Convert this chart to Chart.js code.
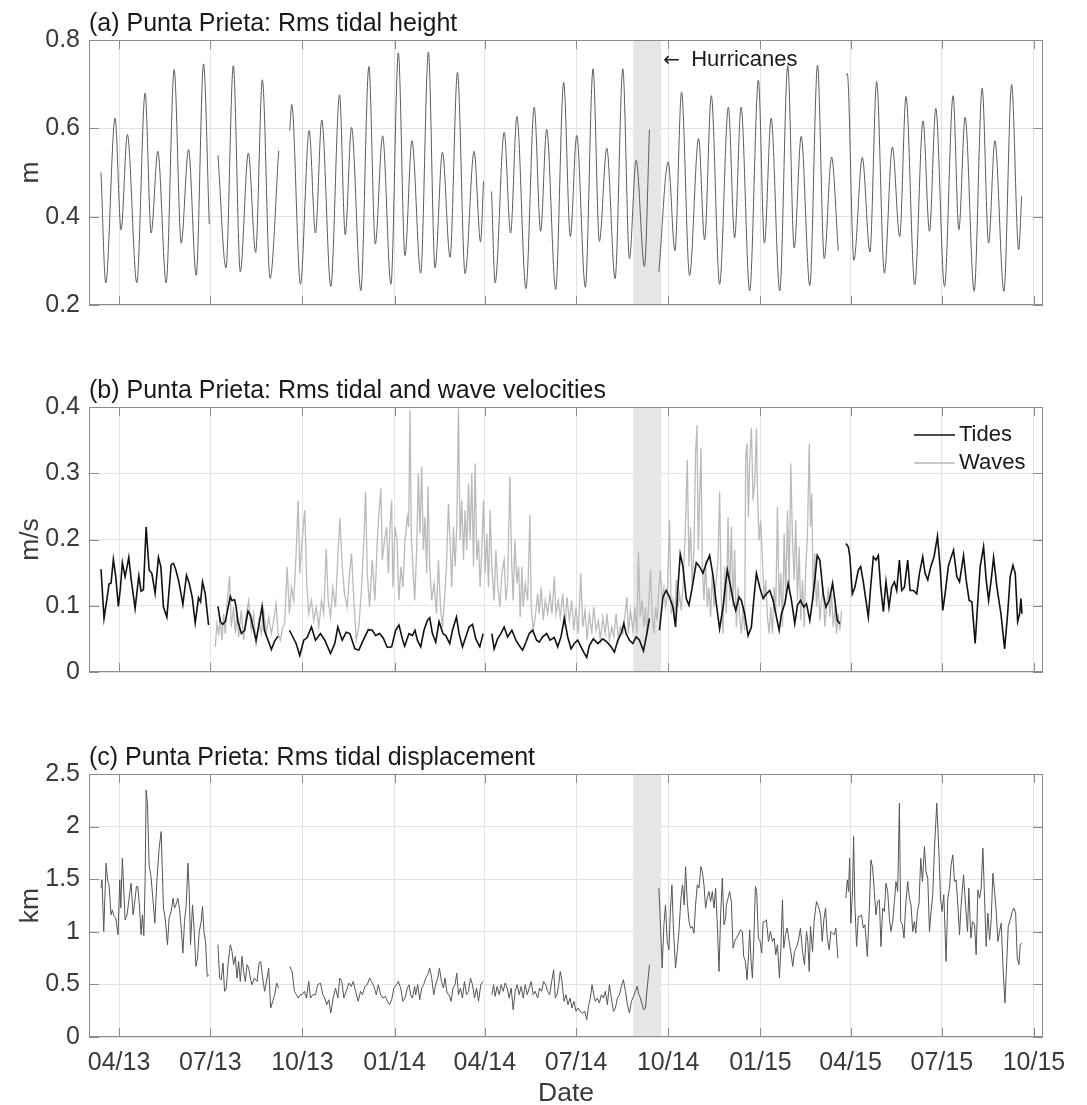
<!DOCTYPE html>
<html>
<head>
<meta charset="utf-8">
<title>Punta Prieta</title>
<script src="https://cdn.jsdelivr.net/npm/chart.js@4.4.1/dist/chart.umd.min.js"></script>
<style>
    body { margin: 0; background: #fff; }
    #wrap { position: relative; width: 1087px; height: 1105px; }
    #wrap canvas { position: absolute; left: 0; }
</style>
</head>
<body>
<div id="wrap">
    <canvas id="panelA" width="1087" height="340" style="top:0;width:1087px;height:340px"></canvas>
    <canvas id="panelB" width="1087" height="360" style="top:340px;width:1087px;height:360px"></canvas>
    <canvas id="panelC" width="1087" height="405" style="top:700px;width:1087px;height:405px"></canvas>
</div>
<script>
/* ---- axis data (x = days since 1 Apr 2013) ---- */
const tickDays = [0, 91, 183, 275, 365, 456, 548, 640, 730, 821, 913];
const tickLabels = ['04/13', '07/13', '10/13', '01/14', '04/14', '07/14', '10/14', '01/15', '04/15', '07/15', '10/15'];
const hurricaneDays = [513, 541];

/* ---- (a) rms tidal height, m  (null = gap in record) ---- */
const tidalHeight = [
    [-18,0.50],[-13.3,0.25],[-4,0.623],[2,0.37],[8.3,0.586],[17.7,0.25],[26,0.68],[32,0.363],[38.7,0.548],[47,0.25],
    [55,0.733],[62,0.34],[69.3,0.552],[77,0.267],[84.3,0.746],[90,0.383], null,
    [98.7,0.539],[106.7,0.284],[114,0.742],[121,0.275],[129,0.544],[136.3,0.319],[143,0.71],[150.7,0.26],[159.3,0.549], null,
    [170.3,0.595],[172.3,0.654],[181,0.247],[189.7,0.595],[196,0.363],[202.3,0.619],[211.3,0.242],[220,0.676],[225.7,0.359],
    [232,0.602],[241.3,0.233],[249.3,0.74],[255.7,0.338],[263,0.583],[271.3,0.247],[278.7,0.771],[285.3,0.312],[292.3,0.572],
    [301,0.272],[308.7,0.773],[315.3,0.284],[322.7,0.546],[330.3,0.308],[337.7,0.727],[345.3,0.271],[354.3,0.548],[360.7,0.343],[363.7,0.48], null,
    [371.7,0.457],[375.3,0.25],[384.3,0.591],[390.7,0.363],[397,0.627],[406,0.237],[414.3,0.648],[420.7,0.367],[426.7,0.598],
    [435.7,0.235],[443.7,0.704],[450.3,0.355],[456.7,0.584],[465.3,0.24],[473,0.735],[479.3,0.344],[486.7,0.555],[495,0.26],
    [502.7,0.735],[509.3,0.305],[516,0.528],[524.3,0.287],[529.3,0.597], null,
    [538.7,0.275],[548,0.524],[554.7,0.323],[561.3,0.682],[569.3,0.267],[578.3,0.577],[584.3,0.348],[591,0.674],[599.3,0.247],
    [608,0.648],[614.3,0.352],[620.7,0.648],[629.3,0.232],[638,0.709],[644,0.34],[650.7,0.623],[659.3,0.232],[667.3,0.742],
    [673.7,0.329],[680.7,0.582],[689.3,0.244],[697,0.743],[703.7,0.305],[711,0.535],[717.7,0.323], null,
    [725.3,0.72],[726.7,0.724],[733.3,0.301],[741.7,0.534],[749.3,0.32],[756,0.706],[763.7,0.272],[771.7,0.558],[779,0.355],
    [785.3,0.672],[794,0.246],[802.3,0.617],[808.7,0.367],[815,0.645],[823.7,0.242],[832.3,0.674],[838,0.37],[844.3,0.625],
    [853.3,0.231],[861.3,0.691],[867.7,0.34],[874,0.572],[883,0.231],[890.7,0.699],[897.7,0.325],[900.7,0.446]
];

/* ---- (b) rms tidal velocity, m/s ---- */
const tideVelocity = [
    [-18,0.155],[-15,0.081],[-12.3,0.108],[-10,0.133],[-8,0.134],[-5.7,0.17],[-3.3,0.144],[-0.7,0.099],[1.3,0.126],[3.3,0.165],
    [6,0.144],[8,0.159],[9.7,0.173],[12,0.141],[16,0.096],[19.7,0.145],[22,0.122],[24.3,0.124],[27,0.219],[30,0.154],
    [32.7,0.149],[36,0.119],[39.3,0.173],[41.7,0.159],[44.3,0.098],[47.7,0.083],[52,0.162],[54.3,0.164],[56.7,0.154],[59.7,0.136],
    [63.7,0.102],[67.3,0.146],[70,0.134],[73,0.113],[76,0.074],[79.3,0.112],[81.3,0.106],[83.3,0.136],[86,0.118],[89.3,0.071], null,
    [98.7,0.099],[101,0.076],[103.3,0.072],[106,0.076],[111,0.114],[112.7,0.108],[115.3,0.109],[116.7,0.099],[118.7,0.076],[122,0.058],
    [125.3,0.063],[128.7,0.092],[131,0.086],[133.7,0.068],[136.7,0.048],[139.3,0.068],[142.7,0.099],[145,0.063],[148.7,0.048],
    [152,0.034],[155.3,0.047],[158.7,0.054], null,
    [170,0.063],[176.7,0.043],[180.3,0.025],[184.3,0.048],[187.7,0.052],[192,0.068],[196,0.048],[201,0.058],[205.3,0.048],[211,0.028],
    [215.3,0.043],[218.3,0.068],[222.7,0.048],[226.7,0.06],[230.3,0.058],[235.3,0.035],[239.3,0.033],[243.7,0.048],[248.7,0.064],
    [252.7,0.063],[256,0.055],[260,0.058],[263.7,0.051],[267.7,0.037],[272,0.038],[276,0.063],[279.3,0.071],[282.7,0.05],[285,0.039],
    [289.3,0.058],[292.7,0.055],[295.3,0.063],[297.7,0.048],[301,0.038],[304.3,0.063],[307.7,0.078],[310,0.082],[312.7,0.058],
    [316,0.045],[319.3,0.076],[323.3,0.058],[326,0.055],[330,0.043],[332.7,0.063],[336.7,0.083],[339.3,0.058],[342.7,0.038],
    [346,0.053],[349.3,0.068],[352.7,0.072],[356,0.05],[360,0.038],[363.3,0.058], null,
    [372,0.058],[374.3,0.035],[377.7,0.05],[381,0.058],[384.3,0.068],[387.7,0.053],[392,0.063],[396,0.048],[399.3,0.04],[402.7,0.033],
    [406,0.045],[409.3,0.058],[412.7,0.063],[416.7,0.048],[419.3,0.045],[422.7,0.053],[426.7,0.058],[430,0.048],[434.3,0.052],
    [437.7,0.038],[441,0.053],[444.3,0.081],[447.7,0.053],[451,0.035],[454.3,0.043],[457.7,0.048],[461,0.038],[464.3,0.028],
    [466.7,0.022],[469.3,0.04],[473.3,0.05],[477.7,0.043],[482.7,0.05],[487,0.045],[491,0.038],[494.3,0.03],[497.7,0.048],
    [501,0.058],[503.7,0.073],[506,0.058],[509.3,0.048],[512.7,0.043],[516,0.053],[519.3,0.048],[523.3,0.032],[526.7,0.058],[529.3,0.081], null,
    [539.3,0.063],[542.7,0.113],[546,0.123],[549.3,0.113],[552.7,0.098],[555.3,0.068],[557.7,0.128],[560,0.178],[562.7,0.159],
    [566,0.111],[568.7,0.101],[572,0.128],[576,0.165],[579.3,0.159],[582.7,0.149],[586,0.164],[589.3,0.176],[592.7,0.146],
    [596,0.103],[599.3,0.065],[602.7,0.098],[605.3,0.134],[607,0.154],[610,0.131],[612.7,0.108],[615.3,0.093],[618.7,0.113],
    [621,0.108],[624.3,0.088],[627.7,0.055],[631,0.068],[633.3,0.108],[636,0.149],[639.3,0.128],[642.7,0.111],[646,0.118],
    [649.3,0.123],[652.7,0.108],[656,0.083],[658.7,0.063],[661,0.088],[664.3,0.103],[667.7,0.134],[671,0.108],[674.3,0.073],
    [677,0.101],[680,0.108],[683.3,0.098],[686,0.103],[689.3,0.078],[692,0.108],[694.3,0.139],[696.7,0.176],[699.3,0.169],
    [702.7,0.118],[705.3,0.098],[708.7,0.108],[712,0.134],[714.3,0.108],[716.7,0.078],[719.3,0.073], null,
    [725.3,0.194],[727.7,0.189],[729.3,0.174],[731.7,0.118],[734.3,0.128],[737.7,0.154],[740,0.159],[742.7,0.136],[745.3,0.108],
    [747.7,0.083],[750,0.128],[752.7,0.174],[755.3,0.169],[757.7,0.176],[760,0.128],[762.7,0.091],[765.3,0.136],[768.3,0.098],
    [771,0.128],[773.7,0.136],[776,0.123],[778.7,0.169],[781,0.123],[783.7,0.128],[787,0.169],[789.3,0.123],[792.7,0.123],
    [796,0.118],[798.7,0.149],[802,0.174],[804.3,0.149],[807,0.139],[810,0.159],[813.3,0.174],[816.7,0.205],[819.3,0.159],
    [822,0.093],[824.3,0.118],[827.7,0.161],[832.7,0.184],[836,0.144],[838.7,0.136],[842.7,0.176],[845.3,0.139],[848.3,0.108],
    [851,0.106],[854.3,0.043],[857,0.108],[859.3,0.159],[862.7,0.189],[865.3,0.139],[867.7,0.108],[870.3,0.139],[872.7,0.173],
    [876,0.128],[880,0.088],[883.7,0.035],[886.7,0.088],[889.3,0.144],[892,0.161],[894.3,0.149],[896.7,0.076],[898.7,0.088],
    [900,0.111],[901,0.088]
];

/* ---- (b) rms wave velocity, m/s ---- */
const waveVelocity = [
    [96,0.038],[97.7,0.073],[99.3,0.058],[101,0.078],[102.7,0.048],[104.3,0.088],[106,0.058],[107.7,0.103],[110.3,0.145],[112,0.068],
    [114.3,0.098],[116,0.058],[117.7,0.088],[119.3,0.053],[122,0.093],[124.3,0.048],[126.7,0.083],[129.3,0.108],[132,0.063],
    [134.3,0.088],[136.7,0.038],[139.3,0.078],[142,0.058],[144.3,0.093],[146.7,0.058],[149.3,0.083],[152,0.058],[154.3,0.078],
    [156.7,0.103],[158.7,0.058],[161,0.048],[163.3,0.068],[165.3,0.073],[167.7,0.159],[170,0.088],[172,0.128],[174.3,0.108],
    [176.7,0.179],[178.7,0.259],[180.3,0.149],[182.7,0.199],[185.3,0.244],[187.3,0.134],[189.3,0.088],[192,0.108],[194.3,0.078],
    [196.7,0.098],[199.3,0.068],[202,0.108],[204.3,0.088],[206.7,0.186],[208.7,0.108],[211,0.083],[213.3,0.128],[216,0.098],
    [218.3,0.174],[220.3,0.232],[222.7,0.159],[225,0.118],[227.7,0.098],[230,0.149],[232,0.179],[234.3,0.108],[236.7,0.048],
    [239.3,0.068],[242,0.128],[244.3,0.199],[246,0.272],[247.7,0.149],[250,0.098],[252.7,0.169],[255.3,0.108],[257.7,0.199],
    [259.3,0.239],[261.3,0.277],[262.7,0.169],[265,0.199],[267,0.219],[268.7,0.149],[270.3,0.219],[272,0.259],[273.3,0.128],
    [275.3,0.219],[277.3,0.199],[279.3,0.108],[281.3,0.159],[283.3,0.128],[285.3,0.199],[287.7,0.234],[289,0.219],[290.3,0.395],
    [291.7,0.199],[292.7,0.174],[295,0.108],[297,0.184],[298.7,0.30],[300.3,0.209],[302,0.31],[303.7,0.184],[305.3,0.234],
    [307,0.149],[308.3,0.28],[310,0.159],[312,0.108],[314.3,0.134],[316.7,0.088],[318.7,0.169],[320.7,0.098],[322.7,0.068],
    [324.7,0.108],[326.7,0.159],[328.7,0.254],[330.3,0.199],[332,0.128],[333.7,0.219],[335.3,0.159],[337,0.219],[338.7,0.398],
    [340.3,0.199],[342,0.259],[343.7,0.169],[345.3,0.244],[347,0.184],[348.7,0.285],[350.3,0.199],[352,0.30],[353.7,0.159],
    [355.3,0.315],[357,0.169],[358.7,0.199],[360.3,0.128],[362,0.184],[363.7,0.259],[365.3,0.149],[367,0.209],[368.7,0.128],
    [370.3,0.244],[372,0.159],[374.3,0.108],[376,0.184],[378,0.128],[380,0.098],[382,0.149],[384.3,0.169],[386,0.108],
    [387.7,0.134],[390,0.295],[391.7,0.169],[393.3,0.108],[395,0.199],[397,0.134],[398.7,0.159],[400.3,0.083],[402,0.159],
    [403.3,0.098],[405.3,0.134],[407.7,0.108],[410,0.237],[411.3,0.098],[413.3,0.063],[415.3,0.083],[417.7,0.118],[419.3,0.088],
    [421.3,0.128],[423.3,0.078],[425.3,0.108],[427.7,0.088],[430,0.118],[432,0.088],[434.3,0.144],[436,0.088],[438.3,0.108],
    [440.3,0.083],[442.7,0.118],[445,0.068],[447,0.113],[449.3,0.078],[451.7,0.108],[453.7,0.063],[456,0.098],[458.3,0.058],
    [460.7,0.149],[462.7,0.068],[465,0.093],[467,0.048],[469.3,0.088],[471.7,0.058],[473.7,0.098],[476,0.063],[478.3,0.078],
    [480.3,0.048],[482.7,0.083],[485,0.058],[487,0.088],[489.3,0.048],[491.7,0.068],[493.7,0.053],[496,0.088],[498.3,0.048],
    [500.3,0.068],[502.7,0.058],[505,0.088],[506.7,0.113],[508.3,0.058],[510.3,0.093],[512.7,0.063],[514.7,0.098],[516.7,0.058],
    [518.3,0.181],[520,0.083],[522,0.108],[523.7,0.068],[525.3,0.098],[527,0.058],[528.7,0.108],[530.3,0.154],[532,0.088],
    [533.7,0.058],[535.3,0.098],[537,0.078],[538.7,0.128],[540.3,0.154],[542,0.108],[543.7,0.128],[545.3,0.098],[547,0.113],
    [549.3,0.229],[551,0.088],[552.7,0.108],[554.3,0.078],[556,0.139],[557.7,0.098],[559.3,0.118],[561,0.093],[562.7,0.128],
    [565,0.209],[567,0.32],[568.7,0.159],[570.3,0.219],[572,0.128],[573.7,0.189],[575.3,0.33],[576.7,0.373],[578,0.184],
    [579.3,0.259],[580.7,0.338],[582,0.159],[583.7,0.108],[585.3,0.169],[587,0.098],[588.7,0.128],[590.3,0.083],[592,0.149],
    [593.7,0.098],[595.3,0.128],[597.7,0.169],[599.3,0.272],[601,0.108],[602.7,0.058],[604.3,0.159],[606,0.088],[607.7,0.234],
    [609.3,0.108],[611,0.219],[612.7,0.098],[614.3,0.184],[616,0.068],[617.7,0.128],[619.3,0.083],[621,0.058],[622.7,0.098],
    [624.3,0.063],[625.3,0.325],[626.7,0.345],[628,0.234],[629.3,0.32],[631,0.368],[632.7,0.259],[634.3,0.285],[636,0.368],
    [637.3,0.259],[638.7,0.199],[640.3,0.229],[642,0.169],[643.7,0.108],[645.3,0.139],[647,0.083],[648.7,0.058],[650.3,0.098],
    [652,0.058],[653.7,0.128],[655.3,0.088],[657,0.249],[658.7,0.098],[660.3,0.149],[662,0.068],[663.7,0.209],[665.3,0.108],
    [667,0.244],[668.7,0.128],[670.3,0.315],[672,0.199],[673.7,0.139],[675.3,0.229],[677,0.108],[678.7,0.189],[680.3,0.078],
    [682,0.139],[683.7,0.068],[685.3,0.159],[687,0.209],[688.7,0.345],[690,0.219],[691.3,0.269],[692.7,0.108],[694.3,0.179],
    [696,0.098],[697.7,0.139],[699.3,0.078],[701,0.108],[702.7,0.128],[704.3,0.068],[706,0.098],[707.7,0.128],[709.3,0.083],
    [711,0.118],[712.7,0.068],[714.3,0.098],[716,0.058],[717.7,0.088],[719.3,0.063],[721,0.093]
];

/* ---- (c) rms tidal displacement, km ---- */
const tidalDisplacement = [
    [-18,1.415],[-17,1.494],[-15.3,1.003],[-13,1.652],[-11.3,1.478],[-10,1.446],[-8,1.161],[-6.7,1.209],[-5,1.146],[-3.3,1.13],
    [-1,0.972],[0.7,1.494],[1.7,1.225],[3.3,1.699],[6,1.114],[8,1.161],[10,1.32],[12,1.462],[14,1.161],[15.3,1.256],[17.3,1.43],
    [18.7,1.43],[20.3,1.256],[22,0.972],[23.3,1.161],[24.7,0.965],[26,1.478],[27,2.348],[28.3,2.222],[30,1.636],[31.7,1.541],
    [33.7,1.32],[35.7,1.082],[37.7,1.478],[40,1.794],[42,1.953],[44.3,1.225],[46,1.13],[48.3,0.877],[50,1.13],[52,1.193],
    [54,1.32],[55.3,1.225],[56.7,1.256],[58.7,1.32],[60.3,1.225],[62,1.035],[63.7,0.797],[65.3,1.098],[67,1.256],[68.7,1.652],
    [70,1.383],[71.3,0.877],[73.3,1.256],[75,1.003],[76.7,0.671],[78.3,0.75],[80,1.003],[81.7,1.082],[83.3,1.241],[84.7,1.003],
    [86.3,0.908],[88,0.576],[89.7,0.592], null,
    [98.7,0.877],[100.3,0.56],[102,0.544],[103.7,0.703],[105.3,0.434],[107,0.465],[108.7,0.687],[111,0.877],[112.7,0.813],
    [114.3,0.687],[116,0.766],[117.7,0.56],[119.3,0.718],[121,0.528],[122.7,0.766],[124.3,0.623],[126,0.528],[127.7,0.687],
    [129.3,0.655],[131,0.56],[132.7,0.497],[135,0.56],[137.7,0.528],[139.7,0.703],[141.3,0.718],[143.3,0.56],[145.3,0.434],
    [147.7,0.56],[149.3,0.655],[151.3,0.275],[153.3,0.339],[155.3,0.402],[157.3,0.513],[159.3,0.465], null,
    [170.3,0.671],[172.7,0.623],[175,0.434],[177,0.402],[178.7,0.37],[181,0.402],[182.7,0.402],[185,0.434],[187,0.37],[189.3,0.528],
    [191,0.37],[193.3,0.402],[196,0.402],[198.3,0.497],[201,0.513],[203.3,0.402],[205.3,0.37],[207.3,0.307],[209.3,0.354],
    [211.3,0.228],[213.7,0.37],[216,0.465],[218.3,0.37],[220.3,0.56],[222.3,0.528],[224.3,0.37],[226.7,0.434],[229.3,0.513],
    [231.7,0.481],[233.7,0.528],[236,0.434],[238.7,0.339],[241,0.434],[243,0.402],[245.3,0.481],[247.7,0.497],[250,0.56],
    [252,0.528],[254.3,0.481],[256.7,0.402],[258.7,0.497],[261,0.402],[263.3,0.37],[265.7,0.386],[267.7,0.339],[270,0.307],
    [272,0.354],[274.3,0.465],[276.7,0.497],[278.7,0.528],[281,0.465],[283.3,0.339],[285.3,0.37],[287.7,0.465],[289.3,0.497],
    [291,0.402],[292.7,0.37],[295,0.481],[296,0.402],[298,0.497],[300,0.354],[302,0.465],[304,0.497],[306,0.56],[308,0.592],
    [310,0.655],[312,0.56],[314,0.402],[316,0.497],[318,0.56],[319.7,0.655],[321.7,0.528],[323.7,0.465],[325.3,0.56],[327.3,0.418],
    [329.3,0.402],[331.3,0.339],[333.3,0.465],[335.3,0.497],[337,0.608],[338.7,0.402],[340.7,0.465],[342.7,0.37],[344.7,0.528],
    [346.7,0.402],[348.7,0.434],[350.7,0.56],[352.7,0.497],[354.7,0.37],[356.7,0.465],[358.7,0.339],[361,0.497],[363.3,0.528], null,
    [372,0.402],[373.7,0.497],[375.3,0.386],[377.3,0.481],[379.3,0.402],[381.3,0.497],[383.3,0.434],[385.3,0.513],[387.3,0.465],
    [389.3,0.37],[391.3,0.465],[393.3,0.259],[395.3,0.434],[397.3,0.497],[399.3,0.402],[401.3,0.481],[403.3,0.37],[405.3,0.497],
    [407.3,0.402],[409.3,0.465],[411.3,0.528],[413.3,0.402],[415.3,0.434],[417.7,0.37],[419.7,0.465],[421.7,0.434],[423.7,0.528],
    [425.7,0.497],[427.7,0.434],[429.7,0.402],[431.7,0.528],[433.7,0.639],[435.3,0.37],[437,0.402],[438.7,0.497],[440.3,0.623],
    [442,0.528],[444,0.339],[446,0.402],[448,0.307],[450,0.37],[452,0.275],[454,0.339],[456,0.244],[458,0.275],[460,0.244],
    [462.7,0.228],[464.7,0.244],[466.7,0.165],[468.7,0.307],[470.3,0.37],[472,0.497],[473.7,0.402],[475.3,0.339],[477.3,0.37],
    [479.3,0.323],[481.3,0.402],[483.3,0.37],[485.3,0.434],[487.3,0.307],[489.3,0.497],[491.3,0.37],[493.3,0.244],[495.3,0.275],
    [497.3,0.37],[499.3,0.402],[501.3,0.481],[503.3,0.544],[505.3,0.434],[507.3,0.307],[509.3,0.228],[511.3,0.339],[513.3,0.386],
    [515.3,0.434],[517,0.481],[518.7,0.402],[520.3,0.37],[522,0.307],[523.7,0.259],[525.3,0.275],[526.7,0.434],[528,0.56],[529.3,0.687], null,
    [538.7,1.415],[540,1.13],[542,0.655],[543.7,1.066],[545.3,1.256],[547,0.908],[548.7,0.829],[550.3,1.225],[551.7,1.446],
    [553.3,1.003],[555.3,0.655],[557,0.813],[558.7,1.003],[560.7,1.32],[562.3,1.446],[564,1.256],[565.3,1.62],[567,1.288],
    [568.7,1.098],[570.3,1.035],[572,1.051],[573.7,0.987],[575.3,1.256],[577,1.446],[578.7,1.415],[580.7,1.62],[582,1.573],
    [583.7,1.446],[585.3,1.225],[587,1.32],[588.7,1.383],[590.3,1.288],[592,1.383],[593.7,1.225],[595.3,1.415],[597,1.066],
    [598.7,0.623],[600.3,1.161],[602,1.509],[603.7,1.066],[605.3,1.13],[606,1.256],[607.7,1.32],[609.3,1.383],[611,1.288],
    [612.7,0.845],[614.3,0.908],[616,0.94],[618,0.972],[620,1.019],[622,1.003],[623.3,0.766],[625,0.718],[626.7,0.544],[628,0.75],
    [629.3,1.019],[630.7,0.718],[632,0.56],[633.3,0.877],[635,1.43],[636.3,1.383],[638,0.94],[639.7,0.908],[641.3,0.797],
    [642.7,1.098],[644.3,1.098],[646,1.114],[648,0.908],[650,1.003],[652,0.908],[653.7,0.94],[655.3,0.782],[657,0.877],[659,0.56],
    [660.3,0.813],[662,1.304],[663.3,0.845],[665,0.972],[666.7,1.035],[668.7,0.908],[670.3,0.813],[672.3,0.671],[674,0.813],
    [675.7,0.845],[677.7,0.908],[680,1.035],[682,0.813],[684,0.687],[686,1.003],[687.3,0.908],[688.7,0.623],[690,1.051],
    [692,0.813],[693.7,1.114],[696,1.288],[698,1.241],[700,1.161],[701.7,0.908],[703.3,1.114],[705,1.225],[706.7,0.94],
    [708.7,0.829],[710.3,1.003],[712,0.987],[713.7,0.972],[715.3,1.035],[717.3,0.75], null,
    [725.3,1.32],[726.7,1.494],[728,1.383],[729,1.699],[730.3,1.082],[732,1.415],[733,1.905],[734.3,1.256],[736,0.861],
    [737.7,1.146],[739.3,1.146],[741,1.161],[742.7,1.035],[744.3,1.066],[746.7,0.766],[748.7,1.225],[750.3,1.684],[752,1.604],
    [753.7,1.383],[755.3,1.161],[757,1.288],[758.7,1.304],[760.3,0.861],[762,1.225],[763.7,1.193],[765.3,1.462],[767,1.383],
    [768.7,1.13],[770.3,1.003],[772,1.098],[773.7,1.288],[775.3,1.478],[777,1.383],[778.7,2.222],[780,1.098],[781.7,1.066],
    [783.3,0.94],[785,1.256],[787,1.478],[788.7,1.32],[790.3,1.256],[792,1.003],[793.7,1.098],[795,0.987],[796.7,1.193],
    [798.3,1.272],[800,1.699],[801.7,1.478],[803.7,1.81],[805.3,1.573],[807,1.509],[808.7,1.003],[810.3,1.193],[812,1.351],
    [813.7,1.794],[816,2.222],[818,1.794],[819.7,1.32],[821.3,1.193],[823,1.351],[825.3,0.718],[827,1.32],[828.7,1.415],
    [830.3,1.636],[832,1.731],[833.7,1.478],[835.3,1.494],[837,1.256],[838.7,0.972],[840.3,1.256],[842.7,1.541],[844.7,1.256],
    [846.7,1.003],[848,1.415],[850,0.94],[851.7,1.098],[853.7,1.066],[855.3,0.782],[857,1.399],[858.7,1.32],[860.3,1.415],
    [862,1.794],[863.7,1.32],[865.3,0.861],[867,1.177],[868.7,0.924],[870.3,1.114],[872,1.557],[873.7,1.383],[875.3,1.193],
    [877,0.908],[878.7,1.003],[880.3,1.082],[882,0.687],[884,0.323],[885.7,0.687],[887.3,1.051],[889.3,1.114],[891.3,1.193],
    [893,1.225],[894.7,1.177],[896.3,0.75],[898,0.687],[899.3,0.877],[900.7,0.893]
];

/* ---- styling ---- */
const family = "'Liberation Sans', Arial, Helvetica, sans-serif";
const tickColor = '#3a3a3a';
const gridColor = '#e3e3e3';
const frameColor = '#8c8c8c';

// [day, value] pairs -> chart points, a null entry becomes a break in the line
function toPoints(pairs) {
    return pairs.map((p, i) => p
        ? { x: p[0], y: p[1] }
        : { x: (pairs[i - 1][0] + pairs[i + 1][0]) / 2, y: null });
}

const framePlugin = {
    id: 'frame',
    beforeDatasetsDraw(chart) {
        const { ctx, chartArea: a, scales: { x } } = chart;
        const x0 = x.getPixelForValue(hurricaneDays[0]);
        const x1 = x.getPixelForValue(hurricaneDays[1]);
        ctx.save();
        ctx.fillStyle = '#e6e6e6';
        ctx.fillRect(x0, a.top, x1 - x0, a.bottom - a.top);
        ctx.restore();
    },
    afterDatasetsDraw(chart, args, opts) {
        const { ctx, chartArea: a, scales: { x, y } } = chart;
        ctx.save();
        // inward tick marks on all four sides + box
        ctx.strokeStyle = frameColor;
        ctx.lineWidth = 1;
        ctx.beginPath();
        x.ticks.forEach(t => {
            const px = Math.round(x.getPixelForValue(t.value)) + 0.5;
            ctx.moveTo(px, a.bottom); ctx.lineTo(px, a.bottom - 9);
            ctx.moveTo(px, a.top); ctx.lineTo(px, a.top + 9);
        });
        y.ticks.forEach(t => {
            const py = Math.round(y.getPixelForValue(t.value)) + 0.5;
            ctx.moveTo(a.left, py); ctx.lineTo(a.left + 10, py);
            ctx.moveTo(a.right, py); ctx.lineTo(a.right - 10, py);
        });
        ctx.stroke();
        ctx.strokeRect(Math.round(a.left) + 0.5, Math.round(a.top) + 0.5,
            Math.round(a.right - a.left) - 1, Math.round(a.bottom - a.top) - 1);

        // panel title
        ctx.fillStyle = '#1a1a1a';
        ctx.font = `25px ${family}`;
        ctx.textAlign = 'left';
        ctx.textBaseline = 'alphabetic';
        ctx.fillText(opts.title, a.left, a.top - 9);

        if (opts.hurricaneLabel) {
            const hx = x.getPixelForValue(hurricaneDays[1]) + 2;
            ctx.textBaseline = 'middle';
            ctx.font = "20px 'DejaVu Sans', sans-serif";
            ctx.fillText('\u2190', hx, a.top + 21);
            ctx.font = `22px ${family}`;
            ctx.fillText('Hurricanes', hx + 28, a.top + 20);
        }

        if (opts.legend) {
            ctx.font = `22px ${family}`;
            ctx.textBaseline = 'middle';
            chart.data.datasets.forEach((ds, i) => {
                const ly = a.top + 28 + i * 28;
                ctx.strokeStyle = ds.borderColor;
                ctx.lineWidth = ds.borderWidth;
                ctx.beginPath();
                ctx.moveTo(a.right - 129, ly);
                ctx.lineTo(a.right - 88, ly);
                ctx.stroke();
                ctx.fillStyle = '#1a1a1a';
                ctx.fillText(ds.label, a.right - 84, ly);
            });
        }
        ctx.restore();
    }
};
Chart.register(framePlugin);

function makePanel(id, cfg) {
    const tickFont = { family, size: 25 };
    return new Chart(document.getElementById(id), {
        type: 'line',
        data: { datasets: cfg.datasets },
        options: {
            responsive: false,
            animation: false,
            devicePixelRatio: 1,
            layout: { padding: { top: cfg.top, right: 44, bottom: 0, left: 0 } },
            elements: { point: { radius: 0 } },
            plugins: { legend: { display: false }, tooltip: { enabled: false }, frame: cfg.frame },
            scales: {
                x: {
                    type: 'linear', min: -30, max: 922,
                    afterBuildTicks: s => { s.ticks = tickDays.map(v => ({ value: v })); },
                    afterFit: s => { s.height = cfg.xHeight; s.paddingLeft = 0; s.paddingRight = 0; },
                    grid: { color: gridColor, drawTicks: false },
                    border: { display: false },
                    ticks: {
                        display: cfg.dates, padding: 11, color: tickColor, font: tickFont,
                        maxRotation: 0, autoSkip: false, callback: (v, i) => tickLabels[i]
                    },
                    title: {
                        display: cfg.dates, text: 'Date', color: tickColor,
                        font: { family, size: 26.5, lineHeight: 0.85 }, padding: 0
                    }
                },
                y: {
                    min: cfg.yMin, max: cfg.yMax,
                    afterFit: s => { s.width = 89; },
                    grid: { color: gridColor, drawTicks: false },
                    border: { display: false },
                    ticks: { stepSize: cfg.yStep, padding: 9, color: tickColor, font: tickFont, callback: v => +v.toFixed(1) },
                    title: {
                        display: true, text: cfg.yTitle, color: tickColor,
                        font: { family, size: 26.5 }, padding: { top: 15, bottom: 0 }
                    }
                }
            }
        }
    });
}

makePanel('panelA', {
    top: 40, xHeight: 35, dates: false, yMin: 0.2, yMax: 0.8, yStep: 0.2, yTitle: 'm',
    frame: { title: '(a) Punta Prieta: Rms tidal height', hurricaneLabel: true },
    datasets: [{
        label: 'Tidal height', data: toPoints(tidalHeight),
        borderColor: '#5c5c5c', borderWidth: 1, cubicInterpolationMode: 'monotone'
    }]
});

makePanel('panelB', {
    top: 67, xHeight: 28, dates: false, yMin: 0, yMax: 0.4, yStep: 0.1, yTitle: 'm/s',
    frame: { title: '(b) Punta Prieta: Rms tidal and wave velocities', legend: true },
    datasets: [
        { label: 'Tides', data: toPoints(tideVelocity), borderColor: '#111111', borderWidth: 1.6 },
        { label: 'Waves', data: toPoints(waveVelocity), borderColor: '#bababa', borderWidth: 1.3 }
    ]
});

makePanel('panelC', {
    top: 74, xHeight: 68, dates: true, yMin: 0, yMax: 2.5, yStep: 0.5, yTitle: 'km',
    frame: { title: '(c) Punta Prieta: Rms tidal displacement' },
    datasets: [{
        label: 'Tidal displacement', data: toPoints(tidalDisplacement),
        borderColor: '#555555', borderWidth: 1
    }]
});
</script>
</body>
</html>
